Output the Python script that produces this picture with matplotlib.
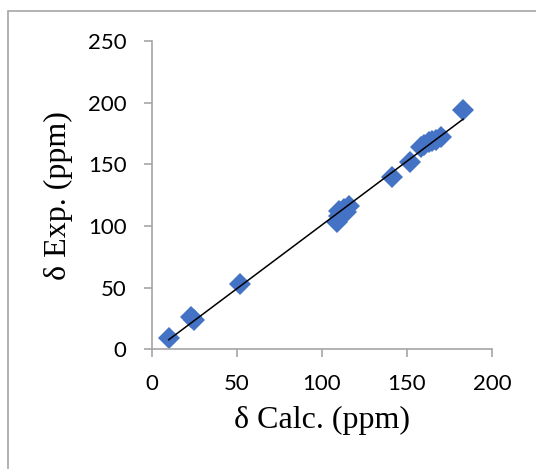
import numpy as np
import matplotlib.pyplot as plt
from matplotlib.patches import Rectangle

# Calculated vs experimental chemical shifts (ppm)
calc = [10, 23, 25, 52, 109, 110, 110, 112, 113, 114, 116,
        141, 152, 158, 160, 163, 165, 167, 170, 183]
exp_ = [9, 26, 24, 53, 103, 108, 112, 110, 114, 111, 116,
        140, 152, 164, 166, 168, 169, 170, 172, 194]

x_ticks = [0, 50, 100, 150, 200]
y_ticks = [0, 50, 100, 150, 200, 250]

W, H = 536, 469
fig = plt.figure(figsize=(W / 100, H / 100), dpi=100)
ax = fig.add_axes([151.7 / W, 1 - 349.3 / H, (492 - 151.7) / W, (349.3 - 41) / H])

ax.plot(calc, exp_, linestyle="none", marker="D", markersize=11,
        color="#4472C4", markeredgewidth=0)

# linear trend line
k, b = np.polyfit(calc, exp_, 1)
xs = np.array([min(calc), max(calc)])
ax.plot(xs, k * xs + b, color="black", linewidth=1.1)

ax.set_xlim(0, 200)
ax.set_ylim(0, 250)
ax.set_xticks(x_ticks)
ax.set_yticks(y_ticks)

for s in ["top", "right"]:
    ax.spines[s].set_visible(False)
for s in ["left", "bottom"]:
    ax.spines[s].set_color("#a6a6a6")
    ax.spines[s].set_linewidth(1.2)
ax.tick_params(direction="out", length=6, width=1.2, color="#a6a6a6",
               labelsize=16, pad=12)
for lab in ax.get_xticklabels() + ax.get_yticklabels():
    lab.set_family("Lato")

ax.set_xlabel("δ Calc. (ppm)", family="Liberation Serif", fontsize=23, labelpad=8)
ax.set_ylabel("δ Exp. (ppm)", family="Liberation Serif", fontsize=23, labelpad=11)

# chart area border
fig.patches.append(Rectangle((7.5 / W, -0.1), 2, 1.1 - 11.5 / H,
                             transform=fig.transFigure, fill=False,
                             edgecolor="#a6a6a6", linewidth=1.2))

plt.savefig("out.png", dpi=100)
